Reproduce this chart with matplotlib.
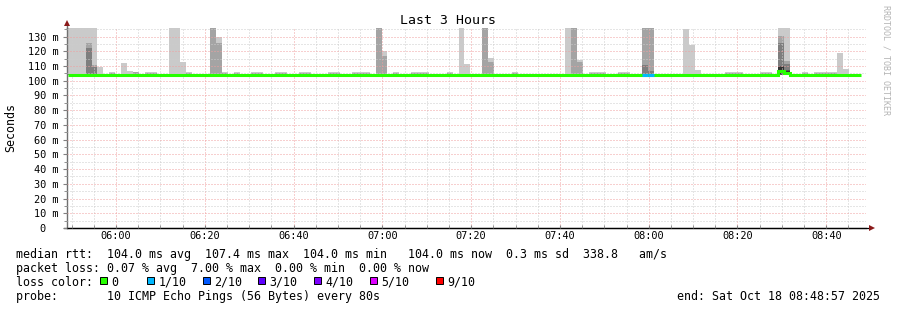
import numpy as np
import matplotlib.pyplot as plt
from matplotlib.patches import Rectangle
from matplotlib.lines import Line2D

plt.rcParams['font.family'] = 'DejaVu Sans Mono'

# time axis in minutes since midnight: 05:48:57 .. 08:48:57
t_start = 5 * 60 + 48 + 57 / 60
t_end = t_start + 180
step_min = 80 / 60          # one step = 80 s
first_bin = t_start + 0.2
n_bins = 134

# 10 sorted pings (ms) for a quiet step
base_pings = [103.8, 103.9, 104.0, 104.0, 104.0, 104.0, 104.1, 104.2, 104.4, 104.9]
# quiet steps with a bit more jitter on top
bump_bins = [7, 13, 14, 20, 26, 28, 31, 32, 35, 36, 39, 40, 44, 45, 48, 49, 50, 55,
             58, 59, 60, 64, 75, 88, 89, 90, 93, 94, 111, 112, 113, 117, 118, 124,
             126, 127, 128, 129]
bump_pings = [103.8, 103.9, 104.0, 104.0, 104.0, 104.0, 104.2, 104.5, 105.1, 105.6]

# steps with outliers (anything over the top of the scale gets clipped)
spike_bins = [0, 1, 2, 3, 4, 5, 9, 10, 11, 17, 18, 19, 24, 25, 52, 53, 66, 67,
              70, 71, 84, 85, 86, 97, 98, 104, 105, 106, 120, 121, 130, 131]
spike_pings = [
    [103.9, 104.0, 104.0, 104.0, 104.0, 104.0, 104.1, 104.3, 104.8, 150.0],
    [103.9, 104.0, 104.0, 104.0, 104.0, 104.0, 104.1, 104.3, 104.5, 150.0],
    [103.9, 104.0, 104.0, 104.0, 104.0, 104.0, 104.1, 104.3, 104.8, 150.0],
    [103.9, 104.0, 104.0, 104.0, 104.0, 104.1, 104.3, 122.0, 125.5, 150.0],
    [103.9, 104.0, 104.0, 104.0, 104.0, 104.1, 104.3, 109.0, 111.0, 150.0],
    [103.9, 104.0, 104.0, 104.0, 104.0, 104.0, 104.1, 104.3, 104.8, 109.6],
    [103.9, 104.0, 104.0, 104.0, 104.0, 104.0, 104.1, 104.3, 104.5, 112.3],
    [103.9, 104.0, 104.0, 104.0, 104.0, 104.0, 104.1, 104.3, 104.5, 106.4],
    [103.9, 104.0, 104.0, 104.0, 104.0, 104.1, 104.3, 104.8, 105.6, 105.9],
    [103.9, 104.0, 104.0, 104.0, 104.0, 104.0, 104.1, 104.3, 104.5, 150.0],
    [103.9, 104.0, 104.0, 104.0, 104.0, 104.0, 104.1, 104.3, 104.5, 150.0],
    [103.9, 104.0, 104.0, 104.0, 104.0, 104.0, 104.1, 104.3, 104.5, 112.4],
    [103.9, 104.0, 104.0, 104.0, 104.0, 104.1, 104.3, 104.6, 150.0, 150.0],
    [103.9, 104.0, 104.0, 104.0, 104.0, 104.1, 104.3, 104.6, 125.5, 130.0],
    [103.9, 104.0, 104.0, 104.0, 104.0, 104.1, 104.3, 104.6, 150.0, 150.0],
    [103.9, 104.0, 104.0, 104.0, 104.0, 104.0, 104.1, 104.3, 117.0, 120.5],
    [103.9, 104.0, 104.0, 104.0, 104.0, 104.0, 104.1, 104.3, 104.5, 150.0],
    [103.9, 104.0, 104.0, 104.0, 104.0, 104.0, 104.1, 104.3, 104.5, 111.6],
    [103.9, 104.0, 104.0, 104.0, 104.0, 104.1, 104.3, 104.6, 150.0, 150.0],
    [103.9, 104.0, 104.0, 104.0, 104.0, 104.0, 104.1, 104.3, 113.0, 115.3],
    [103.9, 104.0, 104.0, 104.0, 104.0, 104.0, 104.1, 104.3, 104.5, 150.0],
    [103.9, 104.0, 104.0, 104.0, 104.0, 104.1, 104.3, 104.6, 150.0, 150.0],
    [103.9, 104.0, 104.0, 104.0, 104.0, 104.0, 104.1, 104.3, 113.0, 114.4],
    [103.9, 104.0, 104.0, 104.0, 104.0, 104.1, 104.3, 111.0, 150.0, 150.0],
    [103.9, 104.0, 104.0, 104.0, 104.0, 104.1, 104.3, 106.4, 150.0, 150.0],
    [103.9, 104.0, 104.0, 104.0, 104.0, 104.0, 104.1, 104.3, 104.5, 135.3],
    [103.9, 104.0, 104.0, 104.0, 104.0, 104.0, 104.1, 104.3, 104.5, 124.0],
    [103.9, 104.0, 104.0, 104.0, 104.0, 104.0, 104.1, 104.3, 104.5, 107.0],
    [104.0, 104.0, 104.0, 104.0, 104.3, 109.5, 110.0, 125.7, 130.7, 150.0],
    [104.0, 104.0, 104.0, 104.0, 104.4, 106.6, 107.0, 111.6, 113.7, 150.0],
    [103.9, 104.0, 104.0, 104.0, 104.0, 104.0, 104.1, 104.3, 104.5, 119.0],
    [103.9, 104.0, 104.0, 104.0, 104.0, 104.0, 104.1, 104.3, 104.5, 108.0],
]

loss_bins = [97, 98]
loss_counts = [1, 1]

loss_levels = [0, 1, 2, 3, 4, 5, 9]
loss_labels = ['0', '1/10', '2/10', '3/10', '4/10', '5/10', '9/10']
loss_colors = ['#26ff00', '#00b8ff', '#0059ff', '#5e00ff', '#7e00ff', '#dd00ff', '#ff0000']

smoke_grays = ['#cacaca', '#a4a4a4', '#7e7e7e', '#585858', '#323232']

legend_lines = [
    "median rtt:  104.0 ms avg  107.4 ms max  104.0 ms min   104.0 ms now  0.3 ms sd  338.8   am/s",
    "packet loss: 0.07 % avg  7.00 % max  0.00 % min  0.00 % now",
    "loss color:",
    "probe:       10 ICMP Echo Pings (56 Bytes) every 80s",
]
end_text = "end: Sat Oct 18 08:48:57 2025"

# build the ping table
pings = np.tile(base_pings, (n_bins, 1))
for b in bump_bins:
    pings[b] = bump_pings
for b, p in zip(spike_bins, spike_pings):
    pings[b] = p
median = (pings[:, 4] + pings[:, 5]) / 2
edges = first_bin + step_min * np.arange(n_bins + 1)

W, H = 897, 310
fig = plt.figure(figsize=(W / 100, H / 100), dpi=100)
ax = fig.add_axes([67 / W, 82 / H, 799 / W, 200 / H])

# smoke: outer pair lightest, inner pair darkest
for i, gray in enumerate(smoke_grays):
    ax.bar(edges[:-1], pings[:, 9 - i] - pings[:, i], bottom=pings[:, i],
           width=step_min, align='edge', color=gray, linewidth=0,
           antialiased=False, zorder=1)

ax.stairs(median, edges, baseline=None, color=loss_colors[0], linewidth=2.2, zorder=4)
for b, c in zip(loss_bins, loss_counts):
    lvl = max(i for i, l in enumerate(loss_levels) if l <= c)
    ax.hlines(median[b], edges[b], edges[b + 1], color=loss_colors[lvl],
              linewidth=2.2, zorder=5)

ax.set_xlim(t_start, t_end)
ax.set_ylim(0, 135.8)
ax.set_xticks(np.arange(360, 521, 20))
ax.set_xticks(np.arange(350, 529, 5), minor=True)
ax.set_xticklabels([f"{int(v // 60):02d}:{int(v % 60):02d}" for v in np.arange(360, 521, 20)])
ax.set_yticks(np.arange(0, 131, 10))
ax.set_yticks(np.arange(5, 136, 5), minor=True)
ax.set_yticklabels(["0  " if v == 0 else f"{v} m" for v in range(0, 131, 10)])

ax.set_axisbelow(False)
ax.grid(which='major', color='#f0a0a0', linestyle=(0, (1, 2)), linewidth=0.72)
ax.grid(which='minor', color='#cccccc', linestyle=(0, (1, 2)), linewidth=0.72)

ax.tick_params(axis='y', which='major', length=3, color='#808080', pad=3, labelsize=7.4)
ax.tick_params(axis='y', which='minor', length=2, color='#808080')
ax.tick_params(axis='x', which='both', direction='in', length=2, color='#808080',
               pad=2, labelsize=7.4)

for s in ['top', 'right']:
    ax.spines[s].set_visible(False)
ax.spines['left'].set_color('#707070')
ax.spines['left'].set_linewidth(1.0)
ax.spines['bottom'].set_color('black')
ax.spines['bottom'].set_linewidth(0.9)

# axis arrows
ax.add_line(Line2D([0, 0], [1, 1.02], transform=ax.transAxes, color='#707070',
                   linewidth=1.0, clip_on=False))
ax.add_line(Line2D([-0.004, 1.004], [0, 0], transform=ax.transAxes, color='black',
                   linewidth=0.9, clip_on=False))
ax.plot([0], [1.027], marker='^', markersize=4.2, color='#8b1a1a', transform=ax.transAxes,
        clip_on=False, markeredgewidth=0)
ax.plot([1.007], [0], marker='>', markersize=4.2, color='#8b1a1a', transform=ax.transAxes,
        clip_on=False, markeredgewidth=0)

ax.set_ylabel("Seconds", fontsize=8.4)
ax.yaxis.set_label_coords(-56 / 799, 0.5)
ax.yaxis.label.set_verticalalignment('center')

fig.text(448 / W, 1 - 24 / H, "Last 3 Hours", ha='center', va='baseline', fontsize=9.5)
fig.text(886 / W, 1 - 5 / H, "RRDTOOL / TOBI OETIKER", rotation=270, ha='center',
         va='top', fontsize=6, color='#b4b4b4')

baselines = [257.7, 271.7, 285.7, 299.7]
for txt, y in zip(legend_lines, baselines):
    fig.text(16 / W, 1 - y / H, txt, ha='left', va='baseline', fontsize=8.4)
fig.text(880 / W, 1 - baselines[3] / H, end_text, ha='right', va='baseline', fontsize=8.4)

box_x = [100, 146.7, 202.7, 258, 314, 370, 436]
for x, lab, col in zip(box_x, loss_labels, loss_colors):
    fig.add_artist(Rectangle((x / W, 1 - 284.3 / H), 7 / W, 7 / H, transform=fig.transFigure,
                             facecolor=col, edgecolor='black', linewidth=0.7))
    fig.text((x + 11.5) / W, 1 - baselines[2] / H, lab, ha='left', va='baseline', fontsize=8.4)

fig.savefig("out.png", dpi=100)
